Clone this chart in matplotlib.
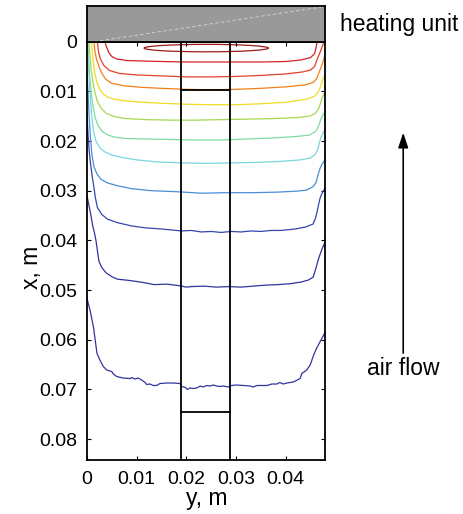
"""
Temperature contours in the channel under the heating unit
===========================================================
Isotherm paths (y across the channel, x down from the heater) with the
sample holder outline, the heater block above and the air-flow arrow.
"""

import matplotlib
matplotlib.use("Agg")
import matplotlib.pyplot as plt
from matplotlib.patches import Ellipse

plt.rcParams["font.family"] = ["Liberation Sans", "DejaVu Sans"]

# ---------------------------------------------------------------------------
# Data (metres): each isotherm as y positions and matching depths x
# ---------------------------------------------------------------------------

Y_MAX = 0.0479
X_MAX = 0.0842

# hottest closed isotherm just under the heater
HOT_CENTER = (0.0240, 0.0013)
HOT_WIDTH = 0.0250
HOT_HEIGHT = 0.0015

red1_y = [0.0036, 0.0039, 0.0044, 0.0050, 0.0060, 0.0080, 0.0110, 0.0150, 0.0200,
          0.0250, 0.0300, 0.0350, 0.0400, 0.0430, 0.0450, 0.0458, 0.0461, 0.0463]
red1_x = [0.0000, 0.0010, 0.0022, 0.0030, 0.0035, 0.0038, 0.0039, 0.0040, 0.0041,
          0.0041, 0.0041, 0.0041, 0.0040, 0.0037, 0.0032, 0.0024, 0.0012, 0.0000]

red2_y = [0.0021, 0.0023, 0.0027, 0.0034, 0.0045, 0.0065, 0.0100, 0.0150, 0.0200,
          0.0250, 0.0300, 0.0350, 0.0400, 0.0434, 0.0450, 0.0458, 0.0463, 0.0468,
          0.0473, 0.0477]
red2_x = [0.0000, 0.0020, 0.0035, 0.0048, 0.0058, 0.0064, 0.0067, 0.0069, 0.0071,
          0.0071, 0.0070, 0.0068, 0.0065, 0.0061, 0.0057, 0.0050, 0.0036, 0.0024,
          0.0011, 0.0000]

orange_y = [0.0014, 0.0016, 0.0019, 0.0024, 0.0030, 0.0038, 0.0050, 0.0075, 0.0110,
            0.0150, 0.0200, 0.0250, 0.0300, 0.0350, 0.0400, 0.0440, 0.0455, 0.0462,
            0.0467, 0.0471, 0.0475, 0.0479, 0.0482]
orange_x = [0.0000, 0.0020, 0.0035, 0.0050, 0.0064, 0.0076, 0.0084, 0.0089, 0.0092,
            0.0094, 0.0096, 0.0097, 0.0096, 0.0094, 0.0091, 0.0087, 0.0082, 0.0075,
            0.0062, 0.0052, 0.0041, 0.0025, 0.0014]

yellow_y = [0.0009, 0.0011, 0.0013, 0.0016, 0.0020, 0.0025, 0.0033, 0.0042, 0.0055,
            0.0075, 0.0110, 0.0150, 0.0200, 0.0250, 0.0300, 0.0350, 0.0400, 0.0441,
            0.0458, 0.0466, 0.0470, 0.0473, 0.0477, 0.0482]
yellow_x = [0.0000, 0.0025, 0.0045, 0.0065, 0.0082, 0.0095, 0.0106, 0.0112, 0.0116,
            0.0119, 0.0122, 0.0124, 0.0126, 0.0127, 0.0127, 0.0125, 0.0122, 0.0116,
            0.0110, 0.0100, 0.0090, 0.0080, 0.0070, 0.0061]

lime_y = [0.0004, 0.0006, 0.0008, 0.0011, 0.0015, 0.0020, 0.0027, 0.0038, 0.0055,
          0.0080, 0.0120, 0.0170, 0.0220, 0.0270, 0.0320, 0.0370, 0.0420, 0.0448,
          0.0460, 0.0466, 0.0470, 0.0473, 0.0477, 0.0482]
lime_x = [0.0000, 0.0030, 0.0055, 0.0075, 0.0098, 0.0118, 0.0132, 0.0144, 0.0151,
          0.0155, 0.0157, 0.0158, 0.0158, 0.0157, 0.0156, 0.0155, 0.0153, 0.0150,
          0.0144, 0.0135, 0.0124, 0.0113, 0.0105, 0.0096]

green_y = [0.0002, 0.0003, 0.0005, 0.0008, 0.0012, 0.0017, 0.0023, 0.0031, 0.0042,
           0.0055, 0.0080, 0.0120, 0.0170, 0.0220, 0.0270, 0.0320, 0.0370, 0.0420,
           0.0448, 0.0461, 0.0467, 0.0471, 0.0475, 0.0482]
green_x = [0.0000, 0.0030, 0.0065, 0.0100, 0.0130, 0.0155, 0.0170, 0.0181, 0.0188,
           0.0192, 0.0195, 0.0196, 0.0197, 0.0198, 0.0198, 0.0196, 0.0194, 0.0191,
           0.0188, 0.0180, 0.0167, 0.0155, 0.0147, 0.0138]

cyan_y = [0.0000, 0.0003, 0.0006, 0.0009, 0.0013, 0.0018, 0.0026, 0.0036, 0.0050,
          0.0070, 0.0100, 0.0140, 0.0190, 0.0240, 0.0290, 0.0340, 0.0390, 0.0430,
          0.0450, 0.0460, 0.0465, 0.0468, 0.0472, 0.0477, 0.0482]
cyan_x = [0.0007, 0.0050, 0.0100, 0.0145, 0.0180, 0.0200, 0.0214, 0.0222, 0.0228,
          0.0233, 0.0238, 0.0242, 0.0244, 0.0245, 0.0244, 0.0243, 0.0241, 0.0238,
          0.0234, 0.0226, 0.0215, 0.0202, 0.0190, 0.0180, 0.0174]

sky_y = [0.0000, 0.0002, 0.0004, 0.0007, 0.0010, 0.0014, 0.0020, 0.0028, 0.0040,
         0.0061, 0.0090, 0.0130, 0.0180, 0.0230, 0.0280, 0.0330, 0.0380, 0.0420,
         0.0441, 0.0455, 0.0461, 0.0465, 0.0469, 0.0474, 0.0478, 0.0482]
sky_x = [0.0060, 0.0100, 0.0145, 0.0195, 0.0228, 0.0252, 0.0266, 0.0277, 0.0284,
         0.0290, 0.0296, 0.0300, 0.0302, 0.0305, 0.0304, 0.0304, 0.0303, 0.0301,
         0.0299, 0.0292, 0.0283, 0.0268, 0.0255, 0.0245, 0.0239, 0.0233]

blue_y = [0.0000, 0.0002, 0.0004, 0.0007, 0.0010, 0.0013, 0.0017, 0.0021, 0.0030,
          0.0041, 0.0060, 0.0090, 0.0120, 0.0150, 0.0170, 0.0190, 0.0210, 0.0230,
          0.0250, 0.0270, 0.0290, 0.0310, 0.0330, 0.0350, 0.0370, 0.0390, 0.0420,
          0.0440, 0.0455, 0.0460, 0.0463, 0.0466, 0.0469, 0.0473, 0.0477, 0.0482]
blue_x = [0.0145, 0.0185, 0.0215, 0.0245, 0.0268, 0.0287, 0.0315, 0.0334, 0.0348,
          0.0357, 0.0364, 0.0371, 0.0375, 0.0377, 0.0379, 0.0381, 0.0380, 0.0383,
          0.0382, 0.0384, 0.0382, 0.0383, 0.0381, 0.0382, 0.0380, 0.0380, 0.0377,
          0.0373, 0.0367, 0.0355, 0.0342, 0.0328, 0.0315, 0.0305, 0.0298, 0.0290]

navy_y = [0.0000, 0.0004, 0.0008, 0.0011, 0.0015, 0.0018, 0.0021, 0.0024, 0.0030,
          0.0038, 0.0050, 0.0061, 0.0080, 0.0095, 0.0115, 0.0135, 0.0160, 0.0185,
          0.0200, 0.0210, 0.0235, 0.0260, 0.0285, 0.0310, 0.0335, 0.0360, 0.0385,
          0.0410, 0.0430, 0.0445, 0.0455, 0.0461, 0.0465, 0.0468, 0.0472, 0.0477,
          0.0482]
navy_x = [0.0310, 0.0330, 0.0350, 0.0368, 0.0385, 0.0400, 0.0421, 0.0442, 0.0455,
          0.0465, 0.0473, 0.0478, 0.0480, 0.0482, 0.0485, 0.0489, 0.0488, 0.0491,
          0.0494, 0.0493, 0.0492, 0.0494, 0.0493, 0.0494, 0.0492, 0.0490, 0.0489,
          0.0487, 0.0484, 0.0480, 0.0474, 0.0455, 0.0440, 0.0431, 0.0420, 0.0408,
          0.0398]

indigo_y = [0.0000, 0.0006, 0.0013, 0.0020, 0.0026, 0.0033, 0.0040, 0.0050, 0.0053,
            0.0060, 0.0073, 0.0087, 0.0090, 0.0097, 0.0103, 0.0110, 0.0117, 0.0120,
            0.0127, 0.0133, 0.0140, 0.0147, 0.0160, 0.0174, 0.0187, 0.0191, 0.0198,
            0.0202, 0.0207, 0.0214, 0.0221, 0.0228, 0.0234, 0.0241, 0.0248, 0.0254,
            0.0261, 0.0268, 0.0274, 0.0284, 0.0291, 0.0301, 0.0315, 0.0328, 0.0335,
            0.0342, 0.0362, 0.0372, 0.0382, 0.0388, 0.0395, 0.0402, 0.0415, 0.0429,
            0.0432, 0.0442, 0.0449, 0.0456, 0.0462, 0.0469, 0.0476, 0.0482]
indigo_x = [0.0517, 0.0540, 0.0574, 0.0627, 0.0641, 0.0654, 0.0661, 0.0664, 0.0669,
            0.0674, 0.0677, 0.0678, 0.0676, 0.0679, 0.0677, 0.0681, 0.0686, 0.0690,
            0.0689, 0.0692, 0.0692, 0.0688, 0.0687, 0.0687, 0.0688, 0.0694, 0.0696,
            0.0700, 0.0697, 0.0698, 0.0697, 0.0693, 0.0695, 0.0692, 0.0693, 0.0691,
            0.0693, 0.0694, 0.0693, 0.0695, 0.0692, 0.0691, 0.0692, 0.0693, 0.0695,
            0.0692, 0.0692, 0.0689, 0.0689, 0.0686, 0.0689, 0.0687, 0.0685, 0.0678,
            0.0668, 0.0661, 0.0651, 0.0631, 0.0617, 0.0604, 0.0591, 0.0578]

ISOTHERMS = [
    (red1_y, red1_x, "#d42222"),
    (red2_y, red2_x, "#e2402a"),
    (orange_y, orange_x, "#f28018"),
    (yellow_y, yellow_x, "#f0dc22"),
    (lime_y, lime_x, "#a6d850"),
    (green_y, green_x, "#7cdca0"),
    (cyan_y, cyan_x, "#7ad6dc"),
    (sky_y, sky_x, "#4a8ed6"),
    (blue_y, blue_x, "#3446ae"),
    (navy_y, navy_x, "#30349e"),
    (indigo_y, indigo_x, "#32349c"),
]

# sample holder outline
HOLDER_Y = (0.0190, 0.0287)
HOLDER_TOP = 0.0097
HOLDER_BOTTOM = 0.0745

X_TICKS = [0, 0.01, 0.02, 0.03, 0.04]
X_TICK_LABELS = ["0", "0.01", "0.02", "0.03", "0.04"]
Y_TICKS = [0, 0.01, 0.02, 0.03, 0.04, 0.05, 0.06, 0.07, 0.08]
Y_TICK_LABELS = ["0", "0.01", "0.02", "0.03", "0.04", "0.05", "0.06", "0.07", "0.08"]

TICK_SIZE = 14
LABEL_SIZE = 16.5


def main():
    fig = plt.figure(figsize=(4.64, 5.14), dpi=100)
    ax = fig.add_axes([0.1875, 0.105, 0.513, 0.814])

    for ys, xs, color in ISOTHERMS:
        ax.plot(ys, xs, color=color, lw=0.9)
    ax.add_patch(Ellipse(HOT_CENTER, HOT_WIDTH, HOT_HEIGHT, fill=False,
                         edgecolor="#a01818", lw=0.9))

    # holder outline
    for yv in HOLDER_Y:
        ax.plot([yv, yv], [0, X_MAX], color="black", lw=1.3)
    for xv in (HOLDER_TOP, HOLDER_BOTTOM):
        ax.plot(HOLDER_Y, [xv, xv], color="black", lw=1.3)

    ax.set_xlim(0, Y_MAX)
    ax.set_ylim(X_MAX, 0)
    ax.set_xticks(X_TICKS, X_TICK_LABELS)
    ax.set_yticks(Y_TICKS, Y_TICK_LABELS)
    ax.tick_params(direction="in", length=3, width=0.8, top=True, right=True,
                   labelsize=TICK_SIZE)
    ax.tick_params(axis="x", pad=8)
    ax.tick_params(axis="y", pad=7)
    for sp in ax.spines.values():
        sp.set_linewidth(1.3)
    ax.set_xlabel("y, m", fontsize=LABEL_SIZE, va="center")
    ax.set_ylabel("x, m", fontsize=LABEL_SIZE, va="center")
    ax.xaxis.set_label_coords(0.504, -0.093)
    ax.yaxis.set_label_coords(-0.235, 0.461)

    # heater block
    hax = fig.add_axes([0.1875, 0.919, 0.513, 0.069])
    hax.set_facecolor("#999999")
    hax.set_xlim(0, 1)
    hax.set_ylim(0, 1)
    hax.set_xticks([])
    hax.set_yticks([])
    hax.plot([0.03, 0.99], [0.0, 0.98], color="#d8d8d8", lw=0.6, ls=(0, (4, 3)))
    for sp in hax.spines.values():
        sp.set_linewidth(1.3)

    fig.text(0.860, 0.953, "heating unit", fontsize=LABEL_SIZE, ha="center", va="center")
    fig.text(0.868, 0.284, "air flow", fontsize=LABEL_SIZE, ha="center", va="center")
    ax.annotate("", xy=(0.869, 0.742), xytext=(0.869, 0.313),
                xycoords="figure fraction", textcoords="figure fraction",
                arrowprops=dict(arrowstyle="-|>,head_length=0.9,head_width=0.3",
                                color="black", lw=1.2, shrinkA=0, shrinkB=0),
                annotation_clip=False)

    fig.savefig("out.png", dpi=100)
    plt.close(fig)


if __name__ == "__main__":
    main()
